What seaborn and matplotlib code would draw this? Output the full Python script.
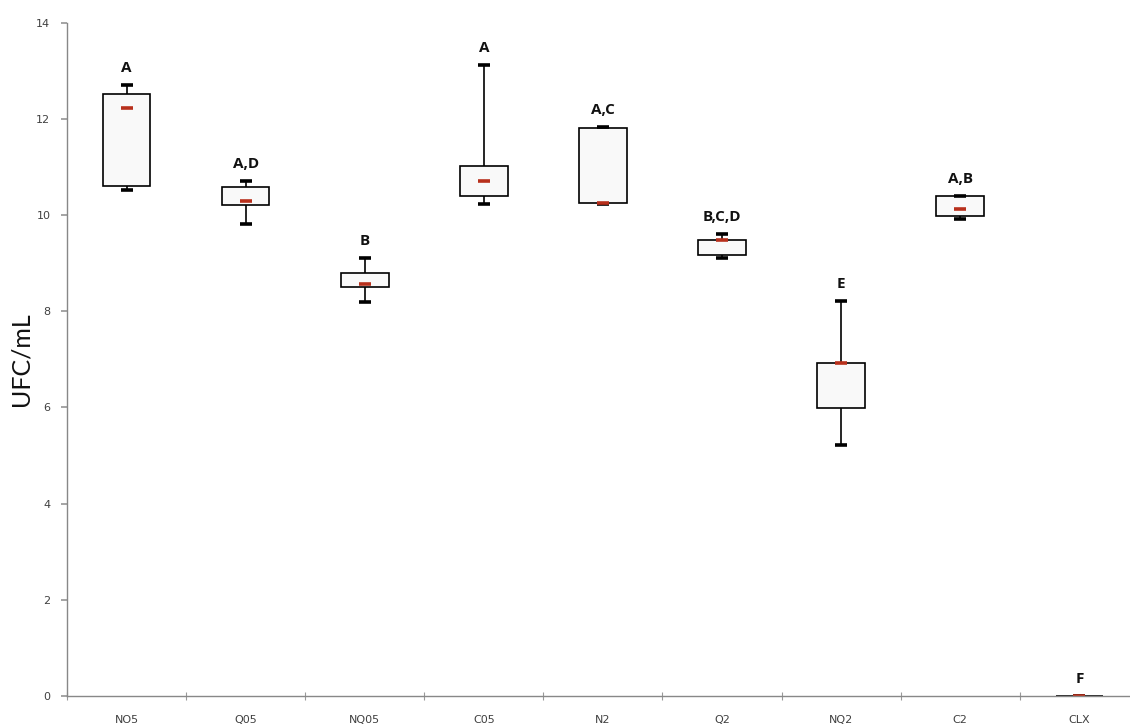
import numpy as np
import pandas as pd
import matplotlib
matplotlib.use("Agg")
import matplotlib.pyplot as plt
import seaborn as sns

# ---- data ----
categories = ["NO5", "Q05", "NQ05", "C05", "N2", "Q2", "NQ2", "C2", "CLX"]
mins    = [10.51, 9.81, 8.20, 10.22, 10.22, 9.11, 5.22, 9.91, 0.0]
q1s     = [10.60, 10.20, 8.50, 10.39, 10.27, 9.16, 5.98, 9.97, 0.0]
medians = [12.22, 10.30, 8.57, 10.70, 10.25, 9.49, 6.92, 10.13, 0.0]
q3s     = [12.51, 10.59, 8.80, 11.01, 11.81, 9.49, 6.92, 10.39, 0.0]
maxs    = [12.70, 10.70, 9.10, 13.11, 11.82, 9.60, 8.21, 10.39, 0.0]
letters = ["A", "A,D", "B", "A", "A,C", "B,C,D", "E", "A,B", "F"]
yticks = [0, 2, 4, 6, 8, 10, 12, 14]

rows = []
for c, a, b, m, d, e in zip(categories, mins, q1s, medians, q3s, maxs):
    for v in (a, b, m, d, e):
        rows.append({"group": c, "UFC": v})
df = pd.DataFrame(rows)
med_df = pd.DataFrame({"group": categories, "UFC": medians})

sns.set_theme(style="white")
plt.rcParams["font.family"] = ["DejaVu Sans"]

fig = plt.figure(figsize=(11.3, 7.25), dpi=100)
ax = fig.add_axes([67 / 1130, 1 - 696 / 725, 9 * 119.1 / 1130, (696 - 22.6) / 725])

sns.boxplot(
    data=df, x="group", y="UFC", order=categories, ax=ax,
    whis=np.inf, width=0.4, color="#f9f9f9", linecolor="black", linewidth=1.2,
    medianprops={"linewidth": 0},
    capprops={"linewidth": 2.6, "solid_capstyle": "butt"},
    whiskerprops={"linewidth": 1.2},
    capwidths=0.1,
)

sns.pointplot(
    data=med_df, x="group", y="UFC", order=categories, ax=ax,
    markers="_", linestyles="none", color="#b8301c", errorbar=None,
    markersize=9, markeredgewidth=2.6,
)

# significance letters
tops = [max(a, b) for a, b in zip(q3s, maxs)]
for i, (t, lab) in enumerate(zip(tops, letters)):
    ax.text(i, t + 0.36, lab, ha="center", va="center", fontsize=11,
            fontweight="bold", color="#111111", family=["Open Sans", "DejaVu Sans"])

ax.set_xlim(-0.5, len(categories) - 0.5)
ax.set_ylim(0, 14)
ax.set_yticks(yticks)
ax.set_yticklabels([str(t) for t in yticks], fontsize=8, color="#404040")
ax.set_xticks(np.arange(-0.5, len(categories), 1.0))
ax.set_xticklabels([""] * (len(categories) + 1))
ax.set_xticks(np.arange(len(categories)), minor=True)
ax.set_xticklabels(categories, minor=True, fontsize=8, color="#404040")
ax.tick_params(axis="x", which="minor", length=0, pad=14)
ax.tick_params(axis="x", which="major", length=6, width=0.8, color="#999999", direction="inout")
ax.tick_params(axis="y", length=4, color="#999999", direction="out", pad=8, left=True)
ax.xaxis.set_ticks_position("bottom")

ax.set_xlabel("")
ax.set_ylabel("UFC/mL", fontsize=18, family=["Lato", "DejaVu Sans"], color="#111111")
ax.yaxis.set_label_coords(-34 / (9 * 119.1), 0.5)

for s in ["top", "right"]:
    ax.spines[s].set_visible(False)
for s in ["left", "bottom"]:
    ax.spines[s].set_color("#888888")
    ax.spines[s].set_linewidth(1.0)

fig.savefig("out.png", dpi=100)
